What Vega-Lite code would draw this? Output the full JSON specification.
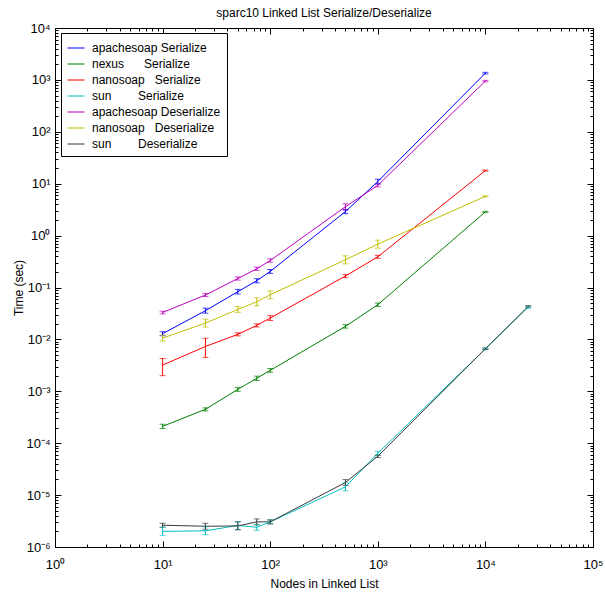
{
  "$schema": "https://vega.github.io/schema/vega-lite/v6.json",
  "width": 538,
  "height": 519,
  "autosize": {"type": "none"},
  "padding": {"left": 55, "top": 28, "right": 12, "bottom": 49},
  "title": {"text": "sparc10 Linked List Serialize/Deserialize", "font": "Liberation Sans", "fontSize": 12, "fontWeight": "normal", "color": "black", "anchor": "middle", "offset": 2},
  "data": {"values": [
    {"s": "apachesoap Serialize", "n": 10, "t": 0.0129, "lo": 0.0118, "hi": 0.0141},
    {"s": "apachesoap Serialize", "n": 25, "t": 0.0357, "lo": 0.032, "hi": 0.040},
    {"s": "apachesoap Serialize", "n": 50, "t": 0.083, "lo": 0.075, "hi": 0.092},
    {"s": "apachesoap Serialize", "n": 75, "t": 0.135, "lo": 0.123, "hi": 0.148},
    {"s": "apachesoap Serialize", "n": 100, "t": 0.204, "lo": 0.187, "hi": 0.222},
    {"s": "apachesoap Serialize", "n": 500, "t": 2.9, "lo": 2.65, "hi": 3.2},
    {"s": "apachesoap Serialize", "n": 1000, "t": 11.0, "lo": 9.9, "hi": 12.2},
    {"s": "apachesoap Serialize", "n": 10000, "t": 1350, "lo": 1300, "hi": 1400},
    {"s": "nexus\u00a0\u00a0\u00a0\u00a0\u00a0\u00a0Serialize", "n": 10, "t": 0.000211, "lo": 0.000192, "hi": 0.000232},
    {"s": "nexus\u00a0\u00a0\u00a0\u00a0\u00a0\u00a0Serialize", "n": 25, "t": 0.00045, "lo": 0.00042, "hi": 0.00048},
    {"s": "nexus\u00a0\u00a0\u00a0\u00a0\u00a0\u00a0Serialize", "n": 50, "t": 0.00109, "lo": 0.001, "hi": 0.00119},
    {"s": "nexus\u00a0\u00a0\u00a0\u00a0\u00a0\u00a0Serialize", "n": 75, "t": 0.00178, "lo": 0.00162, "hi": 0.00196},
    {"s": "nexus\u00a0\u00a0\u00a0\u00a0\u00a0\u00a0Serialize", "n": 100, "t": 0.00253, "lo": 0.00233, "hi": 0.00275},
    {"s": "nexus\u00a0\u00a0\u00a0\u00a0\u00a0\u00a0Serialize", "n": 500, "t": 0.0178, "lo": 0.0165, "hi": 0.0192},
    {"s": "nexus\u00a0\u00a0\u00a0\u00a0\u00a0\u00a0Serialize", "n": 1000, "t": 0.0466, "lo": 0.0432, "hi": 0.0502},
    {"s": "nexus\u00a0\u00a0\u00a0\u00a0\u00a0\u00a0Serialize", "n": 10000, "t": 2.87, "lo": 2.8, "hi": 2.94},
    {"s": "nanosoap\u00a0\u00a0\u00a0Serialize", "n": 10, "t": 0.0032, "lo": 0.002, "hi": 0.0043},
    {"s": "nanosoap\u00a0\u00a0\u00a0Serialize", "n": 25, "t": 0.0073, "lo": 0.0045, "hi": 0.0105},
    {"s": "nanosoap\u00a0\u00a0\u00a0Serialize", "n": 50, "t": 0.0125, "lo": 0.0117, "hi": 0.0134},
    {"s": "nanosoap\u00a0\u00a0\u00a0Serialize", "n": 75, "t": 0.0186, "lo": 0.0174, "hi": 0.0199},
    {"s": "nanosoap\u00a0\u00a0\u00a0Serialize", "n": 100, "t": 0.0258, "lo": 0.0232, "hi": 0.0287},
    {"s": "nanosoap\u00a0\u00a0\u00a0Serialize", "n": 500, "t": 0.166, "lo": 0.155, "hi": 0.178},
    {"s": "nanosoap\u00a0\u00a0\u00a0Serialize", "n": 1000, "t": 0.39, "lo": 0.365, "hi": 0.417},
    {"s": "nanosoap\u00a0\u00a0\u00a0Serialize", "n": 10000, "t": 17.9, "lo": 17.5, "hi": 18.3},
    {"s": "sun\u00a0\u00a0\u00a0\u00a0\u00a0\u00a0\u00a0\u00a0Serialize", "n": 10, "t": 0.0000020, "lo": 0.00000168, "hi": 0.00000239},
    {"s": "sun\u00a0\u00a0\u00a0\u00a0\u00a0\u00a0\u00a0\u00a0Serialize", "n": 25, "t": 0.00000205, "lo": 0.00000172, "hi": 0.00000245},
    {"s": "sun\u00a0\u00a0\u00a0\u00a0\u00a0\u00a0\u00a0\u00a0Serialize", "n": 50, "t": 0.0000026, "lo": 0.00000218, "hi": 0.0000031},
    {"s": "sun\u00a0\u00a0\u00a0\u00a0\u00a0\u00a0\u00a0\u00a0Serialize", "n": 75, "t": 0.0000024, "lo": 0.0000021, "hi": 0.00000274},
    {"s": "sun\u00a0\u00a0\u00a0\u00a0\u00a0\u00a0\u00a0\u00a0Serialize", "n": 100, "t": 0.00000305, "lo": 0.00000279, "hi": 0.00000333},
    {"s": "sun\u00a0\u00a0\u00a0\u00a0\u00a0\u00a0\u00a0\u00a0Serialize", "n": 500, "t": 0.0000144, "lo": 0.0000121, "hi": 0.0000172},
    {"s": "sun\u00a0\u00a0\u00a0\u00a0\u00a0\u00a0\u00a0\u00a0Serialize", "n": 1000, "t": 0.000064, "lo": 0.0000586, "hi": 0.00007},
    {"s": "sun\u00a0\u00a0\u00a0\u00a0\u00a0\u00a0\u00a0\u00a0Serialize", "n": 10000, "t": 0.0066, "lo": 0.0063, "hi": 0.0069},
    {"s": "sun\u00a0\u00a0\u00a0\u00a0\u00a0\u00a0\u00a0\u00a0Serialize", "n": 25000, "t": 0.0418, "lo": 0.04, "hi": 0.0437},
    {"s": "apachesoap Deserialize", "n": 10, "t": 0.033, "lo": 0.031, "hi": 0.035},
    {"s": "apachesoap Deserialize", "n": 25, "t": 0.0716, "lo": 0.067, "hi": 0.077},
    {"s": "apachesoap Deserialize", "n": 50, "t": 0.149, "lo": 0.139, "hi": 0.16},
    {"s": "apachesoap Deserialize", "n": 75, "t": 0.229, "lo": 0.213, "hi": 0.246},
    {"s": "apachesoap Deserialize", "n": 100, "t": 0.331, "lo": 0.307, "hi": 0.357},
    {"s": "apachesoap Deserialize", "n": 500, "t": 3.6, "lo": 3.1, "hi": 4.1},
    {"s": "apachesoap Deserialize", "n": 1000, "t": 9.3, "lo": 8.7, "hi": 9.9},
    {"s": "apachesoap Deserialize", "n": 10000, "t": 950, "lo": 920, "hi": 980},
    {"s": "nanosoap\u00a0\u00a0\u00a0Deserialize", "n": 10, "t": 0.0106, "lo": 0.0093, "hi": 0.0121},
    {"s": "nanosoap\u00a0\u00a0\u00a0Deserialize", "n": 25, "t": 0.0206, "lo": 0.0173, "hi": 0.0245},
    {"s": "nanosoap\u00a0\u00a0\u00a0Deserialize", "n": 50, "t": 0.0378, "lo": 0.0331, "hi": 0.0432},
    {"s": "nanosoap\u00a0\u00a0\u00a0Deserialize", "n": 75, "t": 0.053, "lo": 0.0444, "hi": 0.0633},
    {"s": "nanosoap\u00a0\u00a0\u00a0Deserialize", "n": 100, "t": 0.0724, "lo": 0.0606, "hi": 0.0864},
    {"s": "nanosoap\u00a0\u00a0\u00a0Deserialize", "n": 500, "t": 0.342, "lo": 0.286, "hi": 0.408},
    {"s": "nanosoap\u00a0\u00a0\u00a0Deserialize", "n": 1000, "t": 0.685, "lo": 0.573, "hi": 0.818},
    {"s": "nanosoap\u00a0\u00a0\u00a0Deserialize", "n": 10000, "t": 5.7, "lo": 5.55, "hi": 5.85},
    {"s": "sun\u00a0\u00a0\u00a0\u00a0\u00a0\u00a0\u00a0\u00a0Deserialize", "n": 10, "t": 0.00000263, "lo": 0.00000241, "hi": 0.00000287},
    {"s": "sun\u00a0\u00a0\u00a0\u00a0\u00a0\u00a0\u00a0\u00a0Deserialize", "n": 25, "t": 0.00000251, "lo": 0.0000022, "hi": 0.00000287},
    {"s": "sun\u00a0\u00a0\u00a0\u00a0\u00a0\u00a0\u00a0\u00a0Deserialize", "n": 50, "t": 0.00000255, "lo": 0.00000214, "hi": 0.00000304},
    {"s": "sun\u00a0\u00a0\u00a0\u00a0\u00a0\u00a0\u00a0\u00a0Deserialize", "n": 75, "t": 0.00000305, "lo": 0.00000267, "hi": 0.00000348},
    {"s": "sun\u00a0\u00a0\u00a0\u00a0\u00a0\u00a0\u00a0\u00a0Deserialize", "n": 100, "t": 0.00000305, "lo": 0.00000279, "hi": 0.00000333},
    {"s": "sun\u00a0\u00a0\u00a0\u00a0\u00a0\u00a0\u00a0\u00a0Deserialize", "n": 500, "t": 0.0000175, "lo": 0.0000154, "hi": 0.0000199},
    {"s": "sun\u00a0\u00a0\u00a0\u00a0\u00a0\u00a0\u00a0\u00a0Deserialize", "n": 1000, "t": 0.000056, "lo": 0.000053, "hi": 0.000059},
    {"s": "sun\u00a0\u00a0\u00a0\u00a0\u00a0\u00a0\u00a0\u00a0Deserialize", "n": 10000, "t": 0.0066, "lo": 0.0064, "hi": 0.0068},
    {"s": "sun\u00a0\u00a0\u00a0\u00a0\u00a0\u00a0\u00a0\u00a0Deserialize", "n": 25000, "t": 0.0432, "lo": 0.0418, "hi": 0.0446}
  ]},
  "layer": [
    {
      "mark": {"type": "line", "strokeWidth": 1, "clip": true},
      "encoding": {
        "x": {"field": "n", "type": "quantitative", "scale": {"type": "log", "domain": [1, 100000], "nice": false},
          "axis": {"orient": "bottom", "title": "Nodes in Linked List", "titlePadding": 4, "tickCount": 40, "labelPadding": 17}},
        "y": {"field": "t", "type": "quantitative", "scale": {"type": "log", "domain": [0.000001, 10000], "nice": false},
          "axis": {"orient": "left", "title": "Time (sec)", "titlePadding": 0, "tickCount": 60, "labelPadding": 11}},
        "color": {"field": "s", "type": "nominal",
          "scale": {"domain": ["apachesoap Serialize", "nexus\u00a0\u00a0\u00a0\u00a0\u00a0\u00a0Serialize", "nanosoap\u00a0\u00a0\u00a0Serialize", "sun\u00a0\u00a0\u00a0\u00a0\u00a0\u00a0\u00a0\u00a0Serialize", "apachesoap Deserialize", "nanosoap\u00a0\u00a0\u00a0Deserialize", "sun\u00a0\u00a0\u00a0\u00a0\u00a0\u00a0\u00a0\u00a0Deserialize"],
            "range": ["#0000ff", "#008000", "#ff0000", "#00bfbf", "#bf00bf", "#bfbf00", "#3a3a3a"]},
          "legend": {"orient": "none", "legendX": 6, "legendY": 5, "title": null, "symbolType": "stroke", "symbolSize": 289, "symbolStrokeWidth": 1, "labelFont": "Liberation Sans", "labelFontSize": 12, "labelColor": "black", "labelLimit": 300, "strokeColor": "black", "fillColor": "white", "padding": 6, "rowPadding": 1, "labelOffset": 7}}
      }
    },
    {
      "mark": {"type": "errorbar", "ticks": {"size": 6}, "thickness": 1, "clip": true},
      "encoding": {
        "x": {"field": "n", "type": "quantitative", "scale": {"type": "log", "domain": [1, 100000], "nice": false},
          "axis": {"orient": "top", "labels": false, "title": null, "tickCount": 40}},
        "y": {"field": "lo", "type": "quantitative", "scale": {"type": "log", "domain": [0.000001, 10000], "nice": false},
          "axis": {"orient": "right", "labels": false, "title": null, "tickCount": 60}},
        "y2": {"field": "hi"},
        "color": {"field": "s", "type": "nominal",
          "scale": {"domain": ["apachesoap Serialize", "nexus\u00a0\u00a0\u00a0\u00a0\u00a0\u00a0Serialize", "nanosoap\u00a0\u00a0\u00a0Serialize", "sun\u00a0\u00a0\u00a0\u00a0\u00a0\u00a0\u00a0\u00a0Serialize", "apachesoap Deserialize", "nanosoap\u00a0\u00a0\u00a0Deserialize", "sun\u00a0\u00a0\u00a0\u00a0\u00a0\u00a0\u00a0\u00a0Deserialize"],
            "range": ["#0000ff", "#008000", "#ff0000", "#00bfbf", "#bf00bf", "#bfbf00", "#3a3a3a"]},
          "legend": null}
      }
    }
  ],
  "resolve": {"axis": {"x": "independent", "y": "independent"}},
  "config": {
    "view": {"stroke": "black", "strokeWidth": 1},
    "axis": {
      "grid": false, "labelOverlap": false, "labelFlush": false,
      "labelFont": "Liberation Sans", "labelFontSize": 13, "labelColor": "black",
      "titleFont": "Liberation Sans", "titleFontSize": 12, "titleFontWeight": "normal", "titleColor": "black",
      "domainColor": "black", "tickColor": "black", "tickWidth": 1,
      "tickSize": {"condition": {"test": "abs(log(datum.value)/LN10-round(log(datum.value)/LN10))<0.001", "value": -6}, "value": -3},
      "labelPadding": 6,
      "labelExpr": "abs(log(datum.value)/LN10-round(log(datum.value)/LN10))<0.001 ? '10' + replace(replace(replace(replace(replace(replace(replace(replace(toString(round(log(datum.value)/LN10)),'-','⁻'),'0','⁰'),'1','¹'),'2','²'),'3','³'),'4','⁴'),'5','⁵'),'6','⁶') : ''"
    }
  }
}
